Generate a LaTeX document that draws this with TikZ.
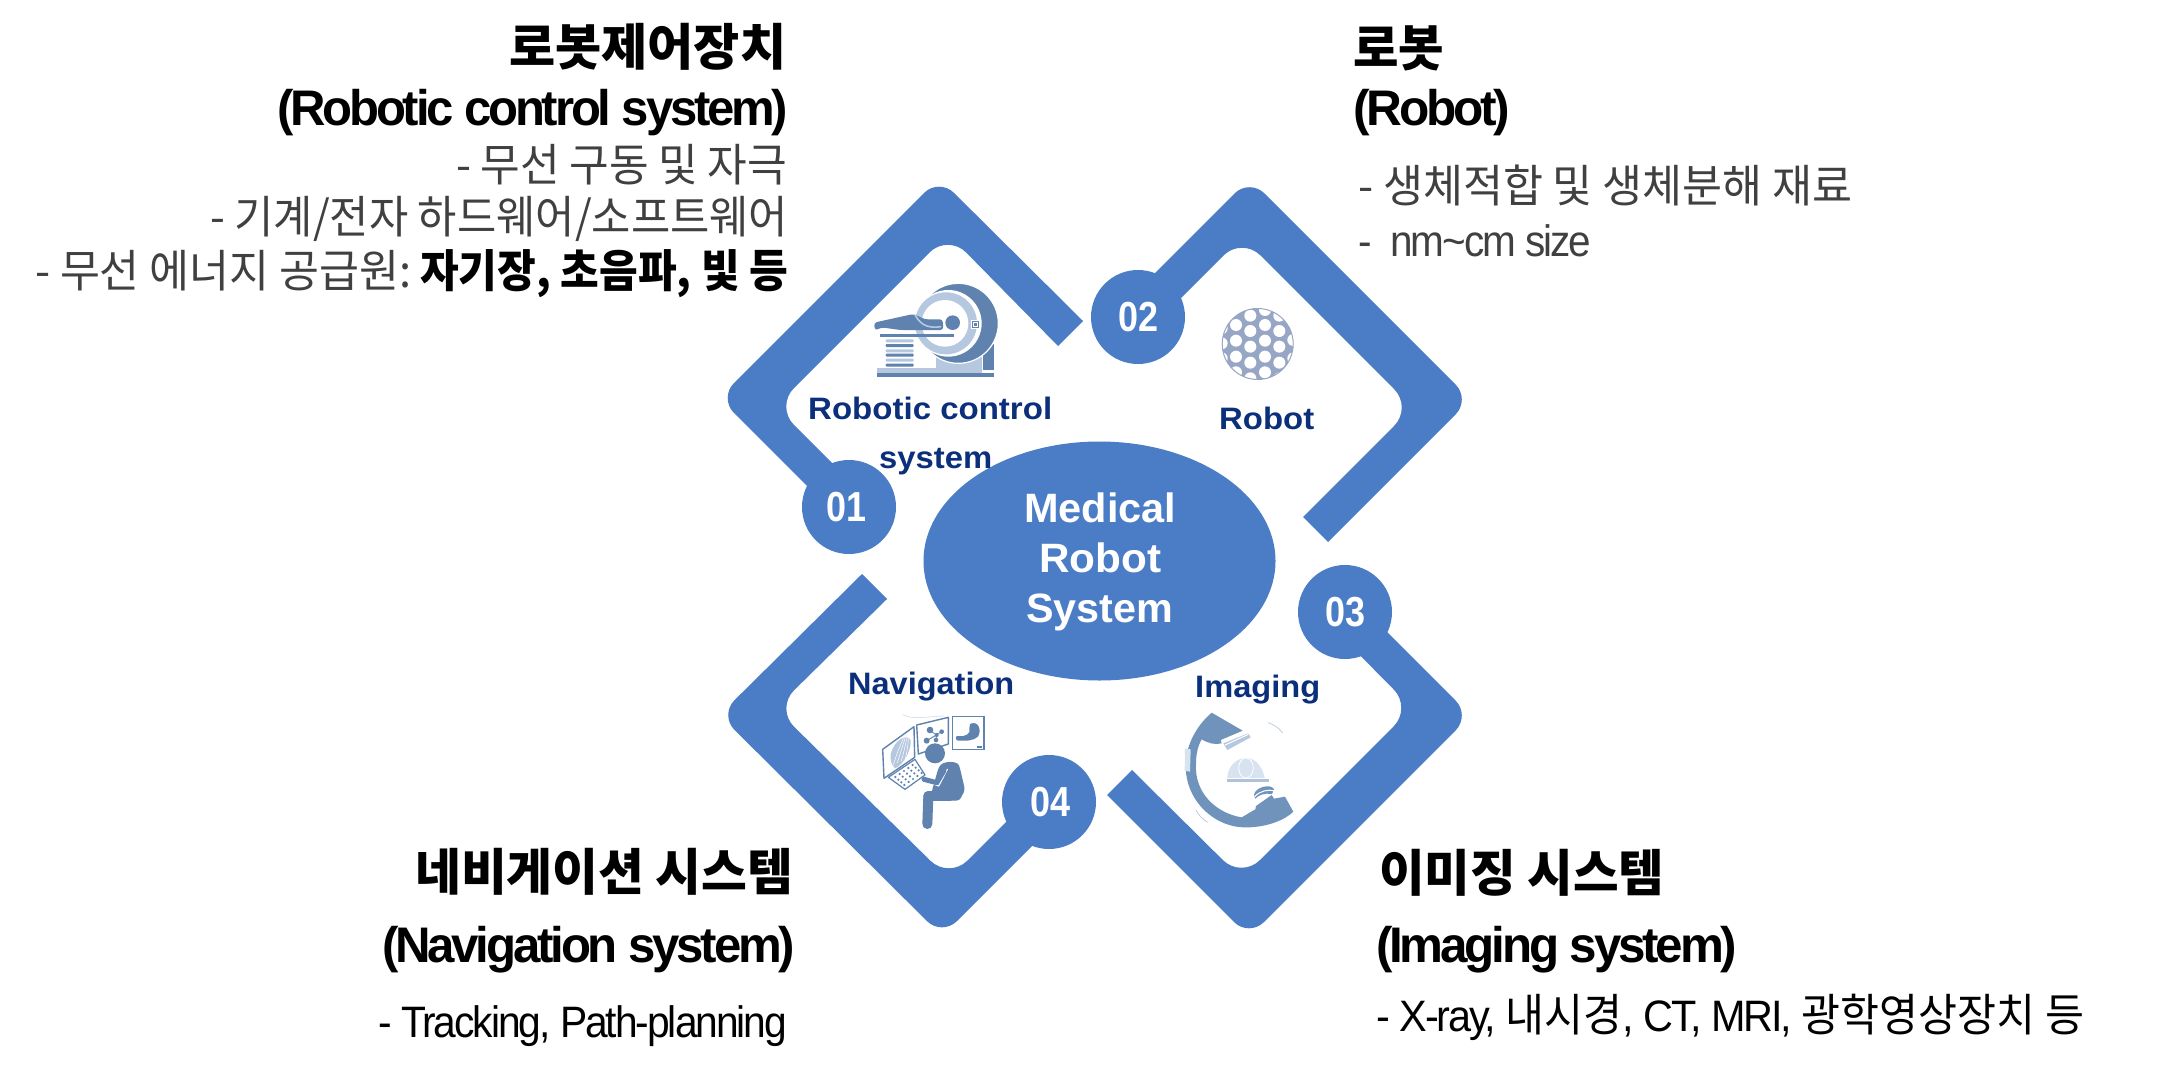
\documentclass[tikz,border=0pt]{standalone}
\usepackage{fontspec}
\usepackage{graphicx}
\usetikzlibrary{shapes.geometric}
\setmainfont{Liberation Sans}
\newfontfamily\tightfont[LetterSpace=-6.5]{Liberation Sans}
\newfontfamily\snugfont[LetterSpace=-5]{Liberation Sans}
\newfontfamily\krfont{Noto Sans CJK KR}
\definecolor{ringblue}{HTML}{4A7DC6}
\definecolor{labelnavy}{HTML}{0B2F7B}
\definecolor{bodygrey}{HTML}{404040}
\definecolor{icondark}{HTML}{5F82AE}
\definecolor{iconmid}{HTML}{7093BB}
\definecolor{iconlight}{HTML}{B5C8DF}
\definecolor{iconpale}{HTML}{D8E3F0}
\definecolor{ballblue}{HTML}{98A6C6}
\tikzset{
  bracket/.style={fill=ringblue},
  numdisc/.style={circle,fill=ringblue,text=white,minimum size=94pt,inner sep=0pt},
  hub/.style={ellipse,fill=ringblue,minimum width=352pt,minimum height=239pt,inner sep=0pt},
  zoomcs/.style 2 args={shift={(#1,#2)},x=0.33333pt,y=-0.33333pt}
}
% \lbl{name}{left x}{baseline y}{width}{colour}{text}
\newcommand{\lbl}[6]{\node[anchor=base west,inner sep=0pt,text=#5] (#1) at (#2,#3) {\resizebox{#4pt}{\height}{#6}};}
\newcommand{\sz}[1]{\fontsize{#1}{#1}\selectfont}
\newcommand{\krb}[1]{{\krfont\bfseries\sz{50}#1}}
\newcommand{\krr}[1]{{\krfont\sz{45}#1}}
\newcommand{\ltb}[1]{{\tightfont\bfseries\sz{50}#1}}
\newcommand{\ltr}[1]{{\snugfont\sz{44}#1}}
\newcommand{\inlab}[1]{{\bfseries\sz{31}#1}}
\newcommand{\hubt}[1]{{\bfseries\sz{41}#1}}
\newcommand{\numt}[1]{\resizebox{40pt}{\height}{\bfseries\sz{42}#1}}
\begin{document}
\begin{tikzpicture}[x=1pt,y=-1pt]
\useasboundingbox (0,0) rectangle (2169,1074);
\fill[white] (0,0) rectangle (2169,1074);

% four brackets around the hub
\fill[bracket] (1083,321) [rounded corners=21pt] -- (939,178) -- (719,398) [sharp corners] -- (840,519) -- (860,491) [rounded corners=26pt] -- (775.5,406.5) -- (948,234) [sharp corners] -- (1058,346) -- cycle;
\fill[bracket] (1130,298) [rounded corners=21pt] -- (1249.5,178.5) -- (1470.5,399.5) [sharp corners] -- (1328,542) -- (1303,517) [rounded corners=26pt] -- (1412.5,407.5) -- (1242,237) [sharp corners] -- (1160,319) -- cycle;
\fill[bracket] (862,574) [rounded corners=21pt] -- (719.5,715) -- (942,936) [sharp corners] -- (1050,828) -- (1020,808) [rounded corners=26pt] -- (949,879) -- (775.5,708.5) [sharp corners] -- (887,599) -- cycle;
\fill[bracket] (1107,795) [rounded corners=21pt] -- (1249,937) -- (1470.5,715.5) [sharp corners] -- (1350,595) -- (1335,630) [rounded corners=26pt] -- (1412,708) -- (1241.5,878.5) [sharp corners] -- (1132,770) -- cycle;

% hub and numbered discs
\node[hub] (core) at (1099.5,561) {};
\node[numdisc] (n1) at (849,507) {\kern-6pt\numt{01}};
\node[numdisc] (n2) at (1138,317) {\numt{02}};
\node[numdisc] (n3) at (1345,612) {\numt{03}};
\node[numdisc] (n4) at (1049,802) {\kern2pt\numt{04}};

\lbl{hubA}{1024}{522}{152}{white}{\hubt{Medical}}
\lbl{hubB}{1039}{572}{122}{white}{\hubt{Robot}}
\lbl{hubC}{1026}{622}{147}{white}{\hubt{System}}

% inner captions
\lbl{capA}{808}{419}{244}{labelnavy}{\inlab{Robotic control}}
\lbl{capB}{879}{468}{113}{labelnavy}{\inlab{system}}
\lbl{capC}{1219}{429}{95}{labelnavy}{\inlab{Robot}}
\lbl{capD}{848}{694}{166}{labelnavy}{\inlab{Navigation}}
\lbl{capE}{1195}{697}{125}{labelnavy}{\inlab{Imaging}}

% scanner icon
\begin{scope}[zoomcs={850}{270}]
  \fill[iconlight] (258,262) rectangle (395,300);
  \fill[iconlight] (80,295) rectangle (395,310);
  \fill[icondark] (80,310) rectangle (433,322);
  \fill[icondark] (400,222) rectangle (433,300);
  \fill[icondark,draw=white,line width=1.2pt] (325,160) circle (120);
  \fill[white] (295,160) circle (100);
  \fill[iconlight] (288,160) circle (93);
  \fill[white] (285,160) circle (70);
  \fill[white] (362,150) rectangle (392,176);
  \draw[icondark,line width=0.8pt] (368,153) rectangle (386,172);
  \fill[icondark] (372,158) rectangle (382,167);
  \fill[icondark] (308,158) circle (22);
  \fill[icondark,rounded corners=3pt] (75,182) -- (72,158) -- (190,132) -- (225,148) -- (278,148) -- (280,180) -- (150,180) -- (95,172) -- cycle;
  \draw[iconlight,line width=1.6pt,line cap=round] (196,136) .. controls (215,172) and (245,174) .. (272,170);
  \fill[icondark] (90,191) rectangle (312,200);
  \foreach \sy/\col in {208/iconlight,222/icondark,238/iconlight,251/icondark,266/iconlight,281/icondark}
    \fill[\col,rounded corners=1pt] (107,\sy) rectangle (191,\sy+9);
\end{scope}

% micro-robot ball
\begin{scope}
  \clip (1257.7,344) circle (35.5);
  \fill[ballblue] (1257.7,344) circle (35.5);
  \begin{scope}[zoomcs={1050}{160}]
    \foreach \hx/\hy in {558/495,558/542,558/590,558/637,601/467,601/513,601/560,601/608,601/655,645/450,645/495,645/542,645/590,645/637,688/467,688/513,688/560,688/608,730/540,730/595,515/550,515/595,515/505,688/655}
      \fill[white] (\hx,\hy) circle (18);
  \end{scope}
\end{scope}
\draw[ballblue,line width=1pt] (1257.7,344) circle (35.5);

% navigation workstation icon
\begin{scope}[zoomcs={870}{700}]
  \draw[iconpale,line width=0.8pt] (98,44) .. controls (130,60) and (170,50) .. (222,48);
  \draw[icondark,line width=1.4pt,line join=round,fill=white] (38,148) -- (132,80) -- (134,172) -- (42,235) -- cycle;
  \draw[icondark,line width=1.4pt,line join=round,fill=white] (140,75) -- (235,52) -- (235,132) -- (145,162) -- cycle;
  \draw[icondark,line width=1.6pt,fill=white] (247,50) rectangle (342,148);
  \fill[iconlight] (62,165) .. controls (70,120) and (110,100) .. (122,120) .. controls (125,150) and (100,195) .. (75,205) .. controls (65,195) and (60,180) .. (62,165) -- cycle;
  \foreach \ra in {0,1,2,3} \draw[white,line width=0.5pt] (70+12*\ra,195-6*\ra) .. controls (80+10*\ra,160) and (90+8*\ra,140) .. (100+5*\ra,115);
  % molecule graph
  \draw[icondark,line width=0.8pt] (180,92) -- (200,105) -- (170,122) -- (215,95) (200,105) -- (198,120);
  \foreach \mx/\my/\mr in {180/90/10,215/95/7,200/105/6,170/122/9,198/120/7}
    \fill[icondark] (\mx,\my) circle (\mr);
  % stomach outline
  \fill[icondark] (300,72) .. controls (325,60) and (335,90) .. (325,108) .. controls (310,125) and (285,122) .. (265,122) .. controls (255,122) and (255,105) .. (265,108) .. controls (285,112) and (305,100) .. (298,85) -- cycle;
  \fill[icondark] (320,137) rectangle (336,143);
  % keyboard
  \draw[icondark,line width=1.2pt,line join=round,fill=white] (55,232) -- (135,178) -- (165,225) -- (105,268) -- cycle;
  \foreach \ki in {0,...,4} \foreach \kj in {0,...,3}
    \fill[icondark] ({76+\ki*13+\kj*9},{231-\ki*9+\kj*8}) circle (3.6);
  % operator
  \fill[icondark] (195,160) circle (30);
  \fill[icondark,rounded corners=3pt] (205,205) .. controls (220,182) and (262,182) .. (270,205) -- (285,270) -- (268,302) -- (185,302) -- (185,275) -- cycle;
  \draw[icondark,line width=10pt,line cap=round,line join=round] (175,288) -- (172,372);
  \draw[icondark,line width=10pt,line cap=round] (175,288) -- (240,288);
  \draw[white,line width=1.2pt,line cap=round,line join=round] (232,208) -- (206,258) -- (165,242);
  \draw[icondark,line width=5pt,line cap=round,line join=round] (222,212) -- (200,248) -- (162,238);
\end{scope}

% C-arm icon
\begin{scope}[zoomcs={1170}{700}]
  \fill[iconmid] (125,38) .. controls (75,80) and (40,150) .. (48,215) .. controls (55,310) and (140,385) .. (230,382) .. controls (290,382) and (345,360) .. (370,335) -- (345,290) -- (312,296) -- (305,285) -- (258,318) -- (256,328) -- (215,352) .. controls (140,340) and (72,280) .. (78,190) .. controls (78,160) and (85,135) .. (95,118) .. controls (115,130) and (135,135) .. (155,130) -- (152,120) -- (218,92) -- cycle;
  \fill[iconlight] (160,130) -- (235,100) -- (242,112) -- (172,150) -- cycle;
  \draw[white,line width=1pt] (165,135) -- (235,103);
  \fill[iconpale] (45,145) -- (62,148) -- (60,215) -- (44,212) -- cycle;
  \fill[iconmid] (252,285) .. controls (255,260) and (305,250) .. (312,268) -- (306,282) .. controls (285,278) and (265,285) .. (256,296) -- cycle;
  \draw[white,line width=1pt] (254,290) .. controls (270,272) and (295,268) .. (312,272);
  % patient head on the table
  \fill[iconpale] (172,234) .. controls (172,205) and (195,174) .. (228,174) .. controls (262,174) and (280,210) .. (284,234) -- cycle;
  \draw[white,line width=0.8pt] (228,204) ellipse (22 and 30);
  \fill[iconlight!90!iconmid] (170,237) rectangle (297,245);
  \draw[iconlight,line width=0.7pt] (295,68) .. controls (312,74) and (328,85) .. (338,99);
  \draw[iconlight,line width=0.7pt] (78,330) .. controls (85,345) and (98,358) .. (113,367);
\end{scope}

% robotic control system description
\lbl{tA}{509}{65}{277}{black}{\krb{로봇제어장치}}
\lbl{tB}{277}{125}{511}{black}{\ltb{(Robotic control system)}}
\lbl{tC}{456}{181}{331}{bodygrey}{\krr{- 무선 구동 및 자극}}
\lbl{tD}{210}{233}{578}{bodygrey}{\krr{- 기계/전자 하드웨어/소프트웨어}}
\lbl{tE}{35}{287}{376}{bodygrey}{\krr{- 무선 에너지 공급원:}}
\lbl{tF}{420}{287}{368}{black}{{\krfont\bfseries\sz{45}자기장, 초음파, 빛 등}}

% robot description
\lbl{rA}{1353}{66}{91}{black}{\krb{로봇}}
\lbl{rB}{1353}{125}{157}{black}{\ltb{(Robot)}}
\lbl{rC}{1358}{202}{494}{bodygrey}{\krr{- 생체적합 및 생체분해 재료}}
\lbl{rD}{1358}{256}{233}{bodygrey}{\ltr{-~~nm\textasciitilde cm size}}

% navigation description
\lbl{nA}{415}{890}{378}{black}{\krb{네비게이션 시스템}}
\lbl{nB}{382}{962}{413}{black}{\ltb{(Navigation system)}}
\lbl{nC}{378}{1037}{409}{black}{\ltr{- Tracking, Path-planning}}

% imaging description
\lbl{iA}{1379}{891}{285}{black}{\krb{이미징 시스템}}
\lbl{iB}{1376}{962}{361}{black}{\ltb{(Imaging system)}}
\lbl{iC}{1376}{1031}{708}{black}{\ltr{- X-ray, }\krr{내시경}\ltr{, CT, MRI, }\krr{광학영상장치 등}}
\end{tikzpicture}
\end{document}
